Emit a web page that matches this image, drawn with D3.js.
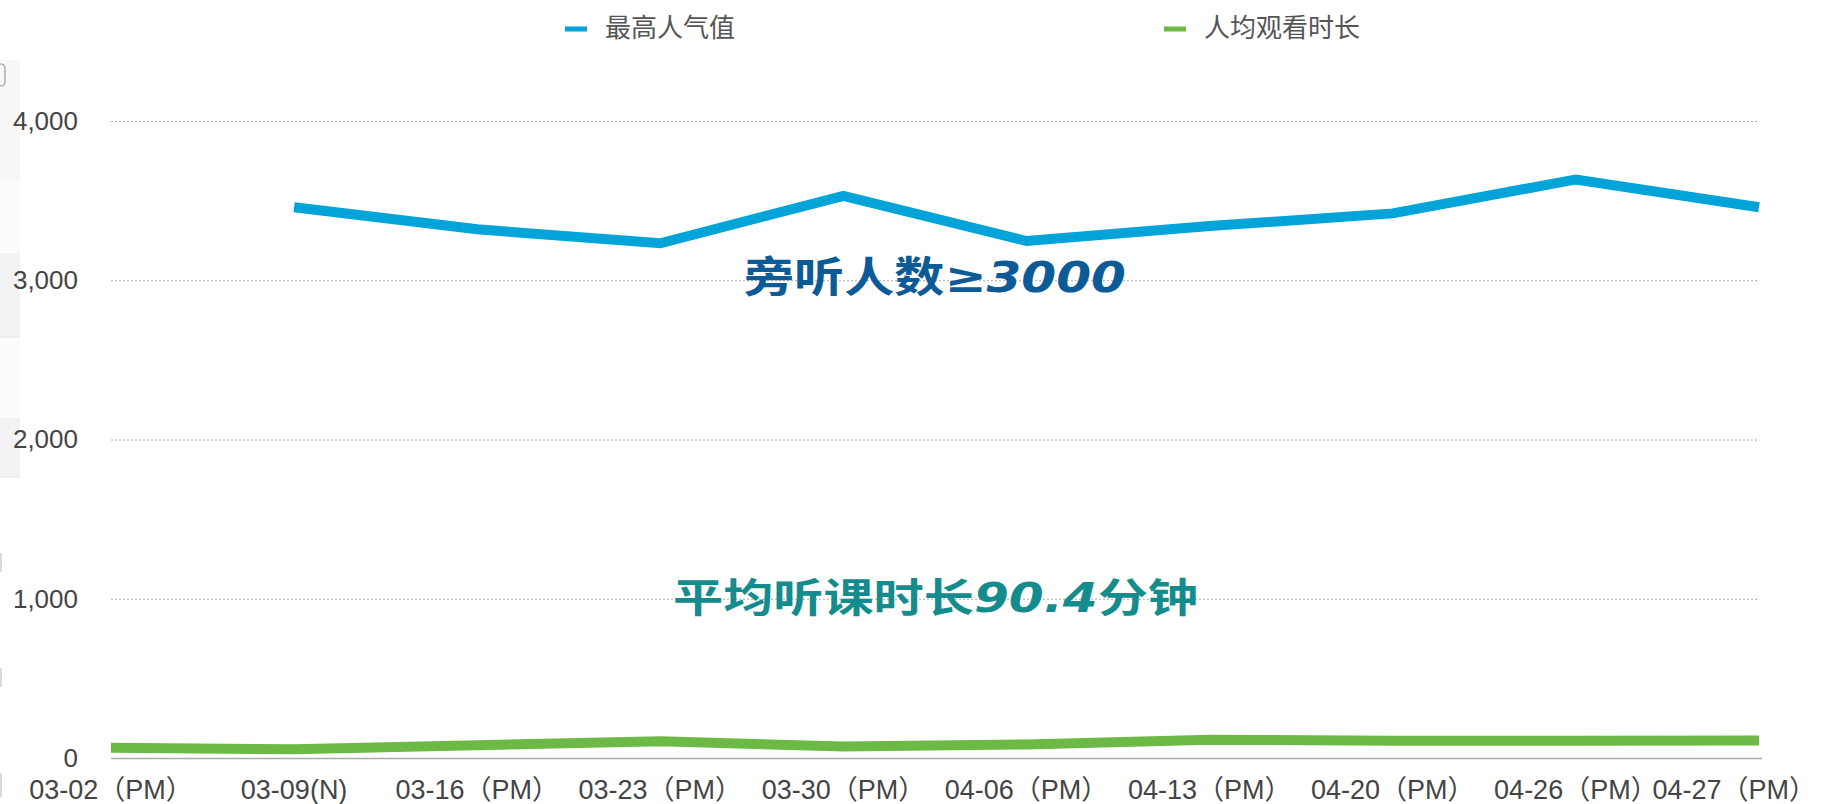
<!DOCTYPE html>
<html>
<head>
<meta charset="utf-8">
<script src="https://cdn.jsdelivr.net/npm/d3@7"></script>
<style>
  body { margin: 0; background: #fff; }
  svg { display: block; font-family: "Liberation Sans", Arial, "Noto Sans CJK SC", sans-serif; }
</style>
</head>
<body>
<svg id="chart" width="1829" height="804"></svg>
<script>
// data
var categories = ["03-02（PM）", "03-09(N)", "03-16（PM）", "03-23（PM）", "03-30（PM）",
                  "04-06（PM）", "04-13（PM）", "04-20（PM）", "04-26（PM）", "04-27（PM）"];
var maxPopularity = [null, 3458, 3320, 3232, 3530, 3246, 3340, 3420, 3633, 3458];
var avgWatchTime = [65, 55, 80, 105, 72, 85, 114, 109, 109, 110];
var yTicks = [0, 1000, 2000, 3000, 4000];
var seriesNames = ["最高人气值", "人均观看时长"];
// notes split into upright CJK parts and slanted number parts
var note1 = [["旁听人数", false], ["≥3000", true]];
var note2 = [["平均听课时长", false], ["90.4", true], ["分钟", false]];

var svg = d3.select("#chart"),
    width = +svg.attr("width"),
    height = +svg.attr("height");

var x = d3.scalePoint().domain(categories).range([111, 1759]),
    y = d3.scaleLinear().domain([0, 4000]).range([758, 121]);

// faint panel bits on the left edge (page behind the chart)
var bg = svg.append("g");
[[60, 120, "#f8f8f8"], [180, 73, "#fcfcfc"], [253, 84, "#f2f2f2"], [337, 81, "#fcfcfc"], [418, 59, "#f3f3f3"]]
    .forEach(function (r) {
        bg.append("rect").attr("x", 0).attr("y", r[0]).attr("width", 20).attr("height", r[1]).attr("fill", r[2]);
    });
[337, 477].forEach(function (yy) {
    bg.append("line").attr("x1", 0).attr("x2", 20).attr("y1", yy).attr("y2", yy).attr("stroke", "#e6e6e6");
});
[[553, 19], [668, 19], [773, 24]].forEach(function (t) {
    bg.append("rect").attr("x", 0).attr("y", t[0]).attr("width", 2).attr("height", t[1]).attr("fill", "#dcdcdc");
});
bg.append("rect").attr("x", -6).attr("y", 64).attr("width", 11).attr("height", 22).attr("rx", 4)
    .attr("fill", "none").attr("stroke", "#999").attr("stroke-width", 1.2);

// grid
svg.append("g")
    .selectAll("line")
    .data(yTicks.filter(function (d) { return d > 0; }))
    .join("line")
    .attr("x1", 111).attr("x2", 1759)
    .attr("y1", function (d) { return y(d) + 0.5; })
    .attr("y2", function (d) { return y(d) + 0.5; })
    .attr("stroke", "#aaa")
    .attr("stroke-width", 1)
    .attr("stroke-dasharray", "2,2");

svg.append("line")
    .attr("x1", 111).attr("x2", 1762)
    .attr("y1", y(0) + 0.5).attr("y2", y(0) + 0.5)
    .attr("stroke", "#aaa").attr("stroke-width", 1.5);

// y labels
var yAxis = d3.axisLeft(y).tickValues(yTicks).tickFormat(d3.format(",")).tickSize(0).tickPadding(0);
var gy = svg.append("g").attr("transform", "translate(78,0)").call(yAxis);
gy.select(".domain").remove();
gy.selectAll("text")
    .attr("font-size", 26)
    .attr("fill", "#444")
    .attr("font-family", "Liberation Sans, Arial, sans-serif");

// x labels
var xl = svg.append("g")
    .selectAll("text")
    .data(categories)
    .join("text")
    .attr("x", function (d) { return x(d); })
    .attr("y", 799)
    .attr("text-anchor", "middle")
    .attr("font-size", 27)
    .attr("fill", "#444")
    .text(function (d) { return d; });
xl.each(function (d) {
    var w = this.getComputedTextLength();
    var cx = x(d);
    // keep the last label inside the frame
    if (cx + w / 2 > 1816) d3.select(this).attr("x", 1816 - w / 2);
});

// lines
var line = d3.line()
    .defined(function (d) { return d != null; })
    .x(function (d, i) { return x(categories[i]); })
    .y(function (d) { return y(d); });

svg.append("path")
    .datum(avgWatchTime)
    .attr("d", line)
    .attr("fill", "none")
    .attr("stroke", "#6cba45")
    .attr("stroke-width", 10)
    .attr("stroke-linejoin", "miter");

svg.append("path")
    .datum(maxPopularity)
    .attr("d", line)
    .attr("fill", "none")
    .attr("stroke", "#00a4d8")
    .attr("stroke-width", 10)
    .attr("stroke-linejoin", "miter");

// legend
var legend = svg.append("g");
var legendColors = ["#00a4d8", "#6cba45"];
var legendX = [565, 1164];
seriesNames.forEach(function (name, i) {
    legend.append("line")
        .attr("x1", legendX[i]).attr("x2", legendX[i] + 22)
        .attr("y1", 29).attr("y2", 29)
        .attr("stroke", legendColors[i]).attr("stroke-width", 5);
    legend.append("text")
        .attr("x", legendX[i] + 40).attr("y", 37)
        .attr("font-size", 26)
        .attr("font-family", "Noto Sans CJK SC, sans-serif")
        .attr("fill", "#555")
        .text(name);
});

// annotations
function note(parts, xx, yy, len, size, color) {
    var t = svg.append("text")
        .attr("x", xx).attr("y", yy)
        .attr("textLength", len).attr("lengthAdjust", "spacingAndGlyphs")
        .attr("font-size", size).attr("font-weight", 700)
        .attr("font-family", "Noto Sans CJK SC, sans-serif")
        .attr("fill", color);
    parts.forEach(function (p) {
        t.append("tspan")
            .attr("font-style", p[1] ? "italic" : "normal")
            .attr("font-family", p[1] ? "DejaVu Sans, Noto Sans CJK SC, sans-serif" : "Noto Sans CJK SC, sans-serif")
            .text(p[0]);
    });
}
note(note1, 744, 292, 382, 42, "#0c5a96");
note(note2, 673, 612, 525, 40, "#148c8e");
</script>
</body>
</html>
